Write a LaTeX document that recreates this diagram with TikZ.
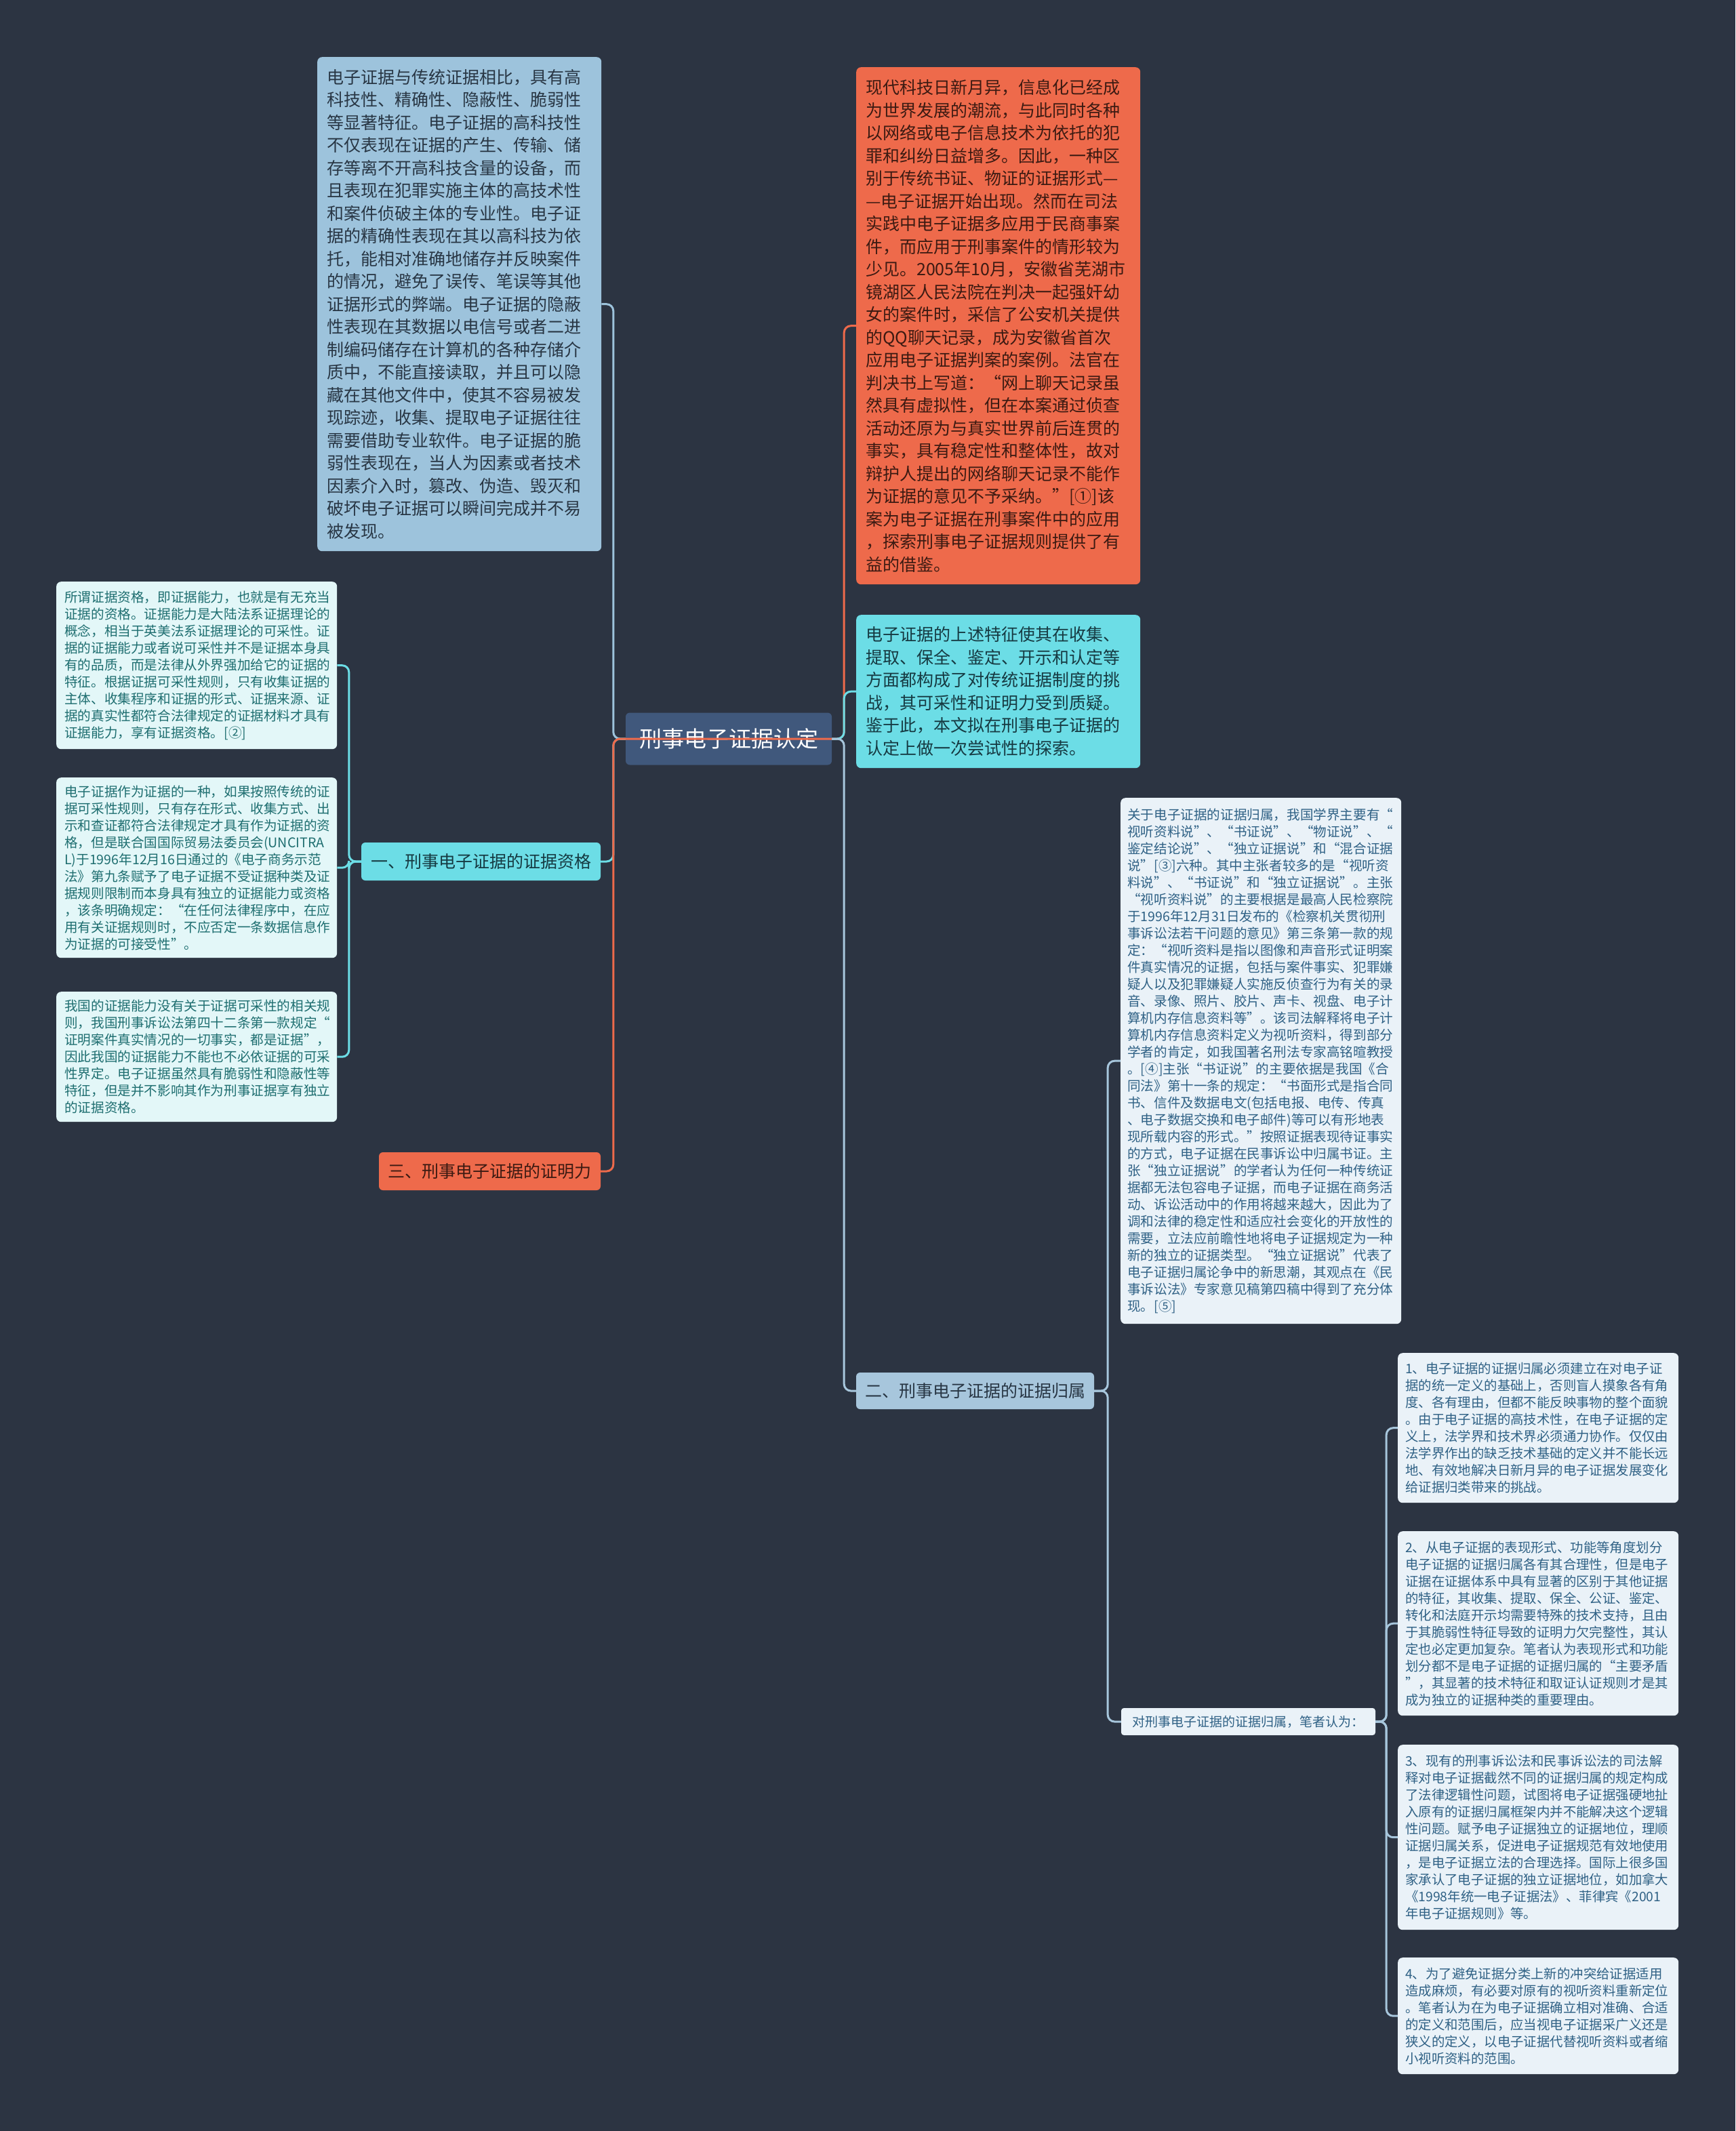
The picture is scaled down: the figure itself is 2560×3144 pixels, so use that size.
\documentclass[tikz,border=0pt]{standalone}
\usepackage{fontspec}
\setmainfont{Noto Sans CJK SC}
\newcommand\fbig{\fontsize{25}{33.5}\selectfont}
\newcommand\fsml{\fontsize{19.6}{25}\selectfont}
\newcommand\fbr{\fontsize{19.4}{25}\selectfont}
\definecolor{bg}{RGB}{44,52,66}
\definecolor{cblue}{RGB}{157,195,220}
\definecolor{cred}{RGB}{238,106,75}
\definecolor{ccyan}{RGB}{108,221,230}
\definecolor{cpale}{RGB}{227,247,248}
\definecolor{cgray}{RGB}{234,242,248}
\definecolor{cslate}{RGB}{64,88,124}
\definecolor{cbranch}{RGB}{167,198,220}
\definecolor{tdark}{RGB}{40,54,68}
\definecolor{tred}{RGB}{60,26,18}
\definecolor{tcyan}{RGB}{22,58,66}
\definecolor{tteal}{RGB}{30,110,112}
\definecolor{tblue}{RGB}{47,97,133}
\tikzset{
  leaf/.style={rounded corners=7pt, anchor=north west, align=left, inner ysep=4pt},
  bigleaf/.style={leaf, font=\fbig, text width=391pt, inner xsep=14pt, minimum width=419pt},
  smlleaf/.style={leaf, font=\fsml, fill=cpale, text=tteal, text width=390pt, inner xsep=12pt, minimum width=414pt},
  grayleaf/.style={leaf, font=\fsml, fill=cgray, text=tblue, text width=394pt, inner xsep=10pt, minimum width=414pt},
  brleaf/.style={leaf, font=\fbr, fill=cgray, text=tblue, text width=392pt, inner xsep=11pt, minimum width=414pt},
  topic/.style={rounded corners=6pt, inner sep=0pt, align=center},
  conn/.style={line width=3pt, rounded corners=10pt}
}
\begin{document}
\begin{tikzpicture}[x=1pt,y=-1pt]
\useasboundingbox (0,0) rectangle (2560,3144);
\fill[bg] (0,0) rectangle (2560,3144);

% central topic
\node[topic, fill=cslate, text=white, font=\fontsize{33}{38}\selectfont, minimum width=304pt, minimum height=77pt] (ctr) at (1075,1090) {刑事电子证据认定};

% branch topics
\node[topic, fill=ccyan, text=tcyan, font=\fontsize{25}{30}\selectfont, minimum width=353pt, minimum height=56pt] (b1) at (709.5,1271) {一、刑事电子证据的证据资格};
\node[topic, fill=cred, text=tred, font=\fontsize{25}{30}\selectfont, minimum width=327pt, minimum height=56pt] (b3) at (722.5,1728) {三、刑事电子证据的证明力};
\node[topic, fill=cbranch, text=tdark, font=\fontsize{25}{30}\selectfont, minimum width=351pt, minimum height=54pt] (b2) at (1438.5,2052) {二、刑事电子证据的证据归属};
\node[topic, fill=cgray, text=tblue, font=\fontsize{19}{23}\selectfont, minimum width=375pt, minimum height=40pt, rounded corners=4pt] (opn) at (1841.5,2540) {对刑事电子证据的证据归属，笔者认为：};

% top-left blue box
\node[bigleaf, fill=cblue, text=tdark, minimum height=729pt] (tl) at (468,84) {电子证据与传统证据相比，具有高\\
科技性、精确性、隐蔽性、脆弱性\\
等显著特征。电子证据的高科技性\\
不仅表现在证据的产生、传输、储\\
存等离不开高科技含量的设备，而\\
且表现在犯罪实施主体的高技术性\\
和案件侦破主体的专业性。电子证\\
据的精确性表现在其以高科技为依\\
托，能相对准确地储存并反映案件\\
的情况，避免了误传、笔误等其他\\
证据形式的弊端。电子证据的隐蔽\\
性表现在其数据以电信号或者二进\\
制编码储存在计算机的各种存储介\\
质中，不能直接读取，并且可以隐\\
藏在其他文件中，使其不容易被发\\
现踪迹，收集、提取电子证据往往\\
需要借助专业软件。电子证据的脆\\
弱性表现在，当人为因素或者技术\\
因素介入时，篡改、伪造、毁灭和\\
破坏电子证据可以瞬间完成并不易\\
被发现。};

% top-right red box
\node[bigleaf, fill=cred, text=tred, minimum height=763pt] (tr) at (1263,99) {现代科技日新月异，信息化已经成\\
为世界发展的潮流，与此同时各种\\
以网络或电子信息技术为依托的犯\\
罪和纠纷日益增多。因此，一种区\\
别于传统书证、物证的证据形式—\\
—电子证据开始出现。然而在司法\\
实践中电子证据多应用于民商事案\\
件，而应用于刑事案件的情形较为\\
少见。2005年10月，安徽省芜湖市\\
镜湖区人民法院在判决一起强奸幼\\
女的案件时，采信了公安机关提供\\
的QQ聊天记录，成为安徽省首次\\
应用电子证据判案的案例。法官在\\
判决书上写道：“网上聊天记录虽\\
然具有虚拟性，但在本案通过侦查\\
活动还原为与真实世界前后连贯的\\
事实，具有稳定性和整体性，故对\\
辩护人提出的网络聊天记录不能作\\
为证据的意见不予采纳。”[①]该\\
案为电子证据在刑事案件中的应用\\
，探索刑事电子证据规则提供了有\\
益的借鉴。};

% cyan box
\node[bigleaf, fill=ccyan, text=tcyan, minimum height=226pt] (tc) at (1263,907) {电子证据的上述特征使其在收集、\\
提取、保全、鉴定、开示和认定等\\
方面都构成了对传统证据制度的挑\\
战，其可采性和证明力受到质疑。\\
鉴于此，本文拟在刑事电子证据的\\
认定上做一次尝试性的探索。};

% left small boxes
\node[smlleaf, minimum height=247pt] (l1) at (83,858) {所谓证据资格，即证据能力，也就是有无充当\\
证据的资格。证据能力是大陆法系证据理论的\\
概念，相当于英美法系证据理论的可采性。证\\
据的证据能力或者说可采性并不是证据本身具\\
有的品质，而是法律从外界强加给它的证据的\\
特征。根据证据可采性规则，只有收集证据的\\
主体、收集程序和证据的形式、证据来源、证\\
据的真实性都符合法律规定的证据材料才具有\\
证据能力，享有证据资格。[②]};

\node[smlleaf, minimum height=266pt] (l2) at (83,1147) {电子证据作为证据的一种，如果按照传统的证\\
据可采性规则，只有存在形式、收集方式、出\\
示和查证都符合法律规定才具有作为证据的资\\
格，但是联合国国际贸易法委员会(UNCITRA\\
L)于1996年12月16日通过的《电子商务示范\\
法》第九条赋予了电子证据不受证据种类及证\\
据规则限制而本身具有独立的证据能力或资格\\
，该条明确规定：“在任何法律程序中，在应\\
用有关证据规则时，不应否定一条数据信息作\\
为证据的可接受性”。};

\node[smlleaf, minimum height=192pt] (l3) at (83,1463) {我国的证据能力没有关于证据可采性的相关规\\
则，我国刑事诉讼法第四十二条第一款规定“\\
证明案件真实情况的一切事实，都是证据”，\\
因此我国的证据能力不能也不必依证据的可采\\
性界定。电子证据虽然具有脆弱性和隐蔽性等\\
特征，但是并不影响其作为刑事证据享有独立\\
的证据资格。};

% gray box
\node[grayleaf, minimum height=776pt] (gy) at (1653,1177) {关于电子证据的证据归属，我国学界主要有“\\
视听资料说”、“书证说”、“物证说”、“\\
鉴定结论说”、“独立证据说”和“混合证据\\
说”[③]六种。其中主张者较多的是“视听资\\
料说”、“书证说”和“独立证据说”。主张\\
“视听资料说”的主要根据是最高人民检察院\\
于1996年12月31日发布的《检察机关贯彻刑\\
事诉讼法若干问题的意见》第三条第一款的规\\
定：“视听资料是指以图像和声音形式证明案\\
件真实情况的证据，包括与案件事实、犯罪嫌\\
疑人以及犯罪嫌疑人实施反侦查行为有关的录\\
音、录像、照片、胶片、声卡、视盘、电子计\\
算机内存信息资料等”。该司法解释将电子计\\
算机内存信息资料定义为视听资料，得到部分\\
学者的肯定，如我国著名刑法专家高铭暄教授\\
。[④]主张“书证说”的主要依据是我国《合\\
同法》第十一条的规定：“书面形式是指合同\\
书、信件及数据电文(包括电报、电传、传真\\
、电子数据交换和电子邮件)等可以有形地表\\
现所载内容的形式。”按照证据表现待证事实\\
的方式，电子证据在民事诉讼中归属书证。主\\
张“独立证据说”的学者认为任何一种传统证\\
据都无法包容电子证据，而电子证据在商务活\\
动、诉讼活动中的作用将越来越大，因此为了\\
调和法律的稳定性和适应社会变化的开放性的\\
需要，立法应前瞻性地将电子证据规定为一种\\
新的独立的证据类型。“独立证据说”代表了\\
电子证据归属论争中的新思潮，其观点在《民\\
事诉讼法》专家意见稿第四稿中得到了充分体\\
现。[⑤]};

% bottom-right boxes
\node[brleaf, minimum height=221pt] (r1) at (2062,1996) {1、电子证据的证据归属必须建立在对电子证\\
据的统一定义的基础上，否则盲人摸象各有角\\
度、各有理由，但都不能反映事物的整个面貌\\
。由于电子证据的高技术性，在电子证据的定\\
义上，法学界和技术界必须通力协作。仅仅由\\
法学界作出的缺乏技术基础的定义并不能长远\\
地、有效地解决日新月异的电子证据发展变化\\
给证据归类带来的挑战。};

\node[brleaf, minimum height=272pt] (r2) at (2062,2259) {2、从电子证据的表现形式、功能等角度划分\\
电子证据的证据归属各有其合理性，但是电子\\
证据在证据体系中具有显著的区别于其他证据\\
的特征，其收集、提取、保全、公证、鉴定、\\
转化和法庭开示均需要特殊的技术支持，且由\\
于其脆弱性特征导致的证明力欠完整性，其认\\
定也必定更加复杂。笔者认为表现形式和功能\\
划分都不是电子证据的证据归属的“主要矛盾\\
”，其显著的技术特征和取证认证规则才是其\\
成为独立的证据种类的重要理由。};

\node[brleaf, minimum height=273pt] (r3) at (2062,2574) {3、现有的刑事诉讼法和民事诉讼法的司法解\\
释对电子证据截然不同的证据归属的规定构成\\
了法律逻辑性问题，试图将电子证据强硬地扯\\
入原有的证据归属框架内并不能解决这个逻辑\\
性问题。赋予电子证据独立的证据地位，理顺\\
证据归属关系，促进电子证据规范有效地使用\\
，是电子证据立法的合理选择。国际上很多国\\
家承认了电子证据的独立证据地位，如加拿大\\
《1998年统一电子证据法》、菲律宾《2001\\
年电子证据规则》等。};

\node[brleaf, minimum height=172pt] (r4) at (2062,2888) {4、为了避免证据分类上新的冲突给证据适用\\
造成麻烦，有必要对原有的视听资料重新定位\\
。笔者认为在为电子证据确立相对准确、合适\\
的定义和范围后，应当视电子证据采广义还是\\
狭义的定义，以电子证据代替视听资料或者缩\\
小视听资料的范围。};

% connectors
\draw[conn, cblue] (ctr.west) -- ++(-18,0) |- (tl.east);
\draw[conn, ccyan] (ctr.west) -- ++(-18,0) |- (b1.east);
\draw[conn, cred] (ctr.east) -- ++(18,0) |- (tr.west);
\draw[conn, ccyan] (ctr.east) -- ++(18,0) |- (tc.west);
\draw[conn, cbranch] (ctr.east) -- ++(18,0) |- (b2.west);
\draw[conn, cred] (ctr.east) -- (ctr.west) -- ++(-18,0) |- (b3.east);

\draw[conn, ccyan] (b1.west) -- ++(-18,0) |- (l1.east);
\draw[conn, ccyan] (b1.west) -- ++(-18,0) |- (l2.east);
\draw[conn, ccyan] (b1.west) -- ++(-18,0) |- (l3.east);

\draw[conn, cbranch] (b2.east) -- ++(20,0) |- (gy.west);
\draw[conn, cbranch] (b2.east) -- ++(20,0) |- (opn.west);

\draw[conn, cbranch] (opn.east) -- ++(16,0) |- (r1.west);
\draw[conn, cbranch] (opn.east) -- ++(16,0) |- (r2.west);
\draw[conn, cbranch] (opn.east) -- ++(16,0) |- (r3.west);
\draw[conn, cbranch] (opn.east) -- ++(16,0) |- (r4.west);
\end{tikzpicture}
\end{document}
